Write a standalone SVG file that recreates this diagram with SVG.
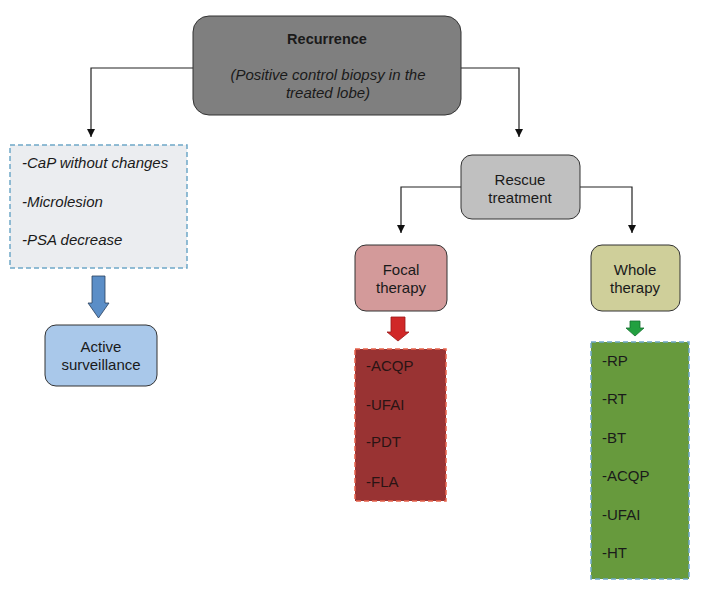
<svg xmlns="http://www.w3.org/2000/svg" width="706" height="591" viewBox="0 0 706 591">
<defs>
<style>
text{font-family:"Liberation Sans",Arial,sans-serif;font-size:15px;fill:#1a1a1a}
.c{text-anchor:middle}
.i{font-style:italic}
.node{stroke:#333;stroke-width:1}
.conn{fill:none;stroke:#222;stroke-width:1.2}
.lst{fill:#2a1414}
</style>
<marker id="ah" viewBox="0 0 10 10" refX="10" refY="5" markerWidth="8" markerHeight="8" markerUnits="userSpaceOnUse" orient="auto">
<path d="M0,0 L10,5 L0,10 z" fill="#111"/>
</marker>
</defs>
<rect width="706" height="591" fill="#fff"/>
<g id="connectors">
<path class="conn" d="M193,68 H91 V137" marker-end="url(#ah)"/>
<path class="conn" d="M461,68 H519 V137" marker-end="url(#ah)"/>
<path class="conn" d="M461,187 H401 V233" marker-end="url(#ah)"/>
<path class="conn" d="M580,187 H632 V233" marker-end="url(#ah)"/>
<path d="M92,276 H105 V303 H109 L98.5,318 L88,303 H92 Z" fill="#5b8ec7" stroke="#2a3f5a" stroke-width="0.8"/>
<path d="M391,317 H405 V332 H409 L398,341 L387,332 H391 Z" fill="#d02828" stroke="#9a1818" stroke-width="0.8"/>
<path d="M630,321 H640 V328 H644 L635,336 L626,328 H630 Z" fill="#22a040" stroke="#157030" stroke-width="0.8"/>
</g>
<g id="recurrence">
<rect class="node" x="193" y="16" width="268" height="99" rx="16" fill="#7f7f7f"/>
<text class="c" x="327" y="44" style="font-weight:bold;font-size:14.5px">Recurrence</text>
<text class="c i" x="328" y="80">(Positive control biopsy in the</text>
<text class="c i" x="328" y="98">treated lobe)</text>
</g>
<g id="criteria">
<rect x="10" y="145" width="177" height="123" fill="#ebedf0" stroke="#6fa8c8" stroke-width="1.5" stroke-dasharray="5,3"/>
<text class="i" x="22" y="168">-CaP without changes</text>
<text class="i" x="22" y="207">-Microlesion</text>
<text class="i" x="22" y="245">-PSA decrease</text>
</g>
<g id="active">
<rect class="node" x="45" y="325" width="112" height="61" rx="11" fill="#a9c8ea"/>
<text class="c" x="101" y="352">Active</text>
<text class="c" x="101" y="370">surveillance</text>
</g>
<g id="rescue">
<rect class="node" x="461" y="155" width="119" height="64" rx="11" fill="#c0c0c0"/>
<text class="c" x="520" y="185">Rescue</text>
<text class="c" x="520" y="203">treatment</text>
</g>
<g id="focal">
<rect class="node" x="355" y="245" width="92" height="66" rx="11" fill="#d39a9a"/>
<text class="c" x="401" y="275">Focal</text>
<text class="c" x="401" y="293">therapy</text>
</g>
<g id="whole">
<rect class="node" x="591" y="245" width="89" height="66" rx="11" fill="#cfcf9a"/>
<text class="c" x="635" y="275">Whole</text>
<text class="c" x="635" y="293">therapy</text>
</g>
<g id="focal-list">
<rect x="355" y="349" width="91" height="152" fill="#993333" stroke="#e8644e" stroke-width="1.5" stroke-dasharray="5,3"/>
<text class="lst" x="366" y="371">-ACQP</text>
<text class="lst" x="366" y="410">-UFAI</text>
<text class="lst" x="366" y="447">-PDT</text>
<text class="lst" x="366" y="487">-FLA</text>
</g>
<g id="whole-list">
<rect x="591" y="342" width="98" height="237" fill="#679a3d" stroke="#6fa8c8" stroke-width="1.5" stroke-dasharray="5,3"/>
<text x="602" y="366">-RP</text>
<text x="602" y="404">-RT</text>
<text x="602" y="443">-BT</text>
<text x="602" y="481">-ACQP</text>
<text x="602" y="520">-UFAI</text>
<text x="602" y="558">-HT</text>
</g>
</svg>
